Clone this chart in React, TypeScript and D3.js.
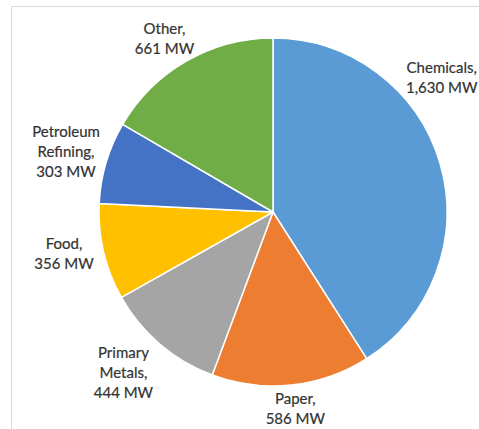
import { useEffect, useRef } from "react";
import * as d3 from "d3";

const categories = ["Chemicals", "Paper", "Primary Metals", "Food", "Petroleum Refining", "Other"];
const values = [1630, 586, 444, 356, 303, 661];
// label lines as shown in the picture
const labelLines = [
  ["Chemicals,", "1,630 MW"],
  ["Paper,", "586 MW"],
  ["Primary", "Metals,", "444 MW"],
  ["Food,", "356 MW"],
  ["Petroleum", "Refining,", "303 MW"],
  ["Other,", "661 MW"],
];
const colors = ["#5B9BD5", "#ED7D31", "#A5A5A5", "#FFC000", "#4472C4", "#70AD47"];
// small manual label nudges (px), like dragging labels in Excel
const labelNudge = [
  [0, -7],
  [0, -4],
  [-12, 0],
  [-3, -5],
  [0, 0],
  [-3, 2],
];

const W = 479;
const H = 429;

export default function App() {
  const ref = useRef<SVGSVGElement | null>(null);

  useEffect(() => {
    const svg = d3.select(ref.current!);
    svg.selectAll("*").remove();

    // chart area frame (extends beyond the crop at right and bottom)
    svg
      .append("rect")
      .attr("x", 11.5)
      .attr("y", 6.5)
      .attr("width", W + 20)
      .attr("height", H + 20)
      .attr("fill", "#fff")
      .attr("stroke", "#D9D9D9");

    const cx = 273;
    const cy = 212;
    const R = 174;
    const lineH = 20;
    const font = "15px Lato, 'Open Sans', sans-serif";

    const data = categories.map((c, i) => ({ name: c, value: values[i], color: colors[i], lines: labelLines[i] }));
    const pie = d3.pie<(typeof data)[number]>().sort(null).value((d) => d.value);
    const arcs = pie(data);
    const arc = d3.arc<d3.PieArcDatum<(typeof data)[number]>>().innerRadius(0).outerRadius(R);

    const g = svg.append("g").attr("transform", `translate(${cx},${cy})`);

    g.selectAll("path")
      .data(arcs)
      .join("path")
      .attr("d", arc)
      .attr("fill", (d) => d.data.color)
      .attr("stroke", "#fff")
      .attr("stroke-width", 1.5)
      .attr("stroke-linejoin", "round");

    // measure text for label boxes
    const measure = svg.append("text").style("font", font);
    const textW = (s: string) => {
      measure.text(s);
      return (measure.node() as SVGTextElement).getComputedTextLength();
    };

    const rightLimit = W - cx - 1;
    arcs.forEach((a, k) => {
      const w = d3.max(a.data.lines, textW) ?? 0;
      const h = a.data.lines.length * lineH;
      let theta = (a.startAngle + a.endAngle) / 2;
      const place = (t: number) => {
        const px = (R + 8) * Math.sin(t);
        const py = -(R + 8) * Math.cos(t);
        return [px + (Math.sin(t) * w) / 2, py - (Math.cos(t) * h) / 2];
      };
      let [lx, ly] = place(theta);
      // slide label along the circle until it fits the chart area
      while (lx + w / 2 > rightLimit && theta > 0) {
        theta -= 0.01;
        [lx, ly] = place(theta);
      }
      lx += labelNudge[k][0];
      ly += labelNudge[k][1];
      const t = g
        .append("text")
        .attr("text-anchor", "middle")
        .style("font", font)
        .style("fill", "#333")
        .style("stroke", "#333")
        .style("stroke-width", 0.2);
      a.data.lines.forEach((line, i) => {
        t.append("tspan")
          .attr("x", lx)
          .attr("y", ly - h / 2 + lineH * (i + 0.5))
          .attr("dy", "0.35em")
          .text(line);
      });
    });
    measure.remove();
  }, []);

  return (
    <svg
      ref={ref}
      width={W}
      height={H}
      style={{ position: "absolute", left: 0, top: 0, background: "#fff" }}
    />
  );
}
